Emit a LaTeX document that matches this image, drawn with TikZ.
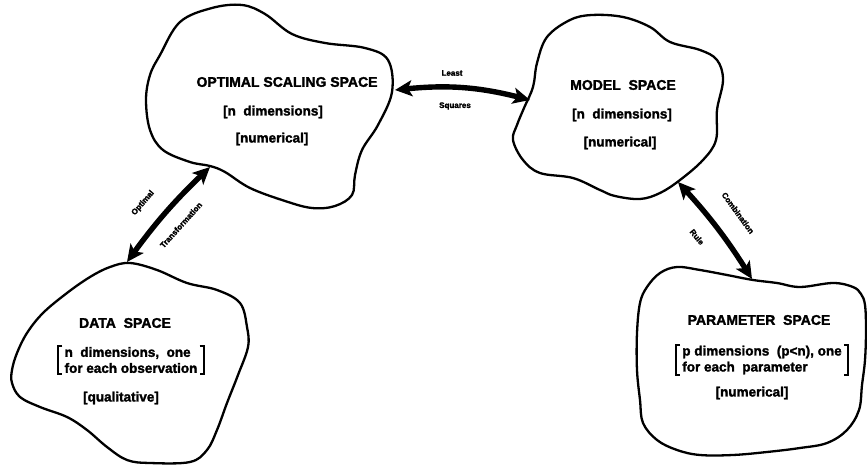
\documentclass[tikz,border=0pt]{standalone}
\usepackage{fontspec}
\newfontfamily\hv{Liberation Sans}[BoldFeatures={FakeBold=1.8}]
\usetikzlibrary{arrows.meta}
\begin{document}
\begin{tikzpicture}[x=1pt,y=-1pt,
  blob/.style={line width=2.3pt, line join=round},
  title/.style={font=\hv\bfseries\fontsize{14}{16}\selectfont, inner sep=0pt},
  sub/.style={font=\hv\bfseries\fontsize{13.5}{16}\selectfont, inner sep=0pt, align=left},
  lab/.style={font=\hv\bfseries\fontsize{8}{9}\selectfont, inner sep=0pt},
  link/.style={line width=5.4pt, {Stealth[length=17pt,width=16pt,inset=4pt]}-{Stealth[length=17pt,width=16pt,inset=4pt]}},
  brk/.style={line width=2pt}]
\useasboundingbox (0,0) rectangle (867,465);

% blobs
\draw[blob] plot[smooth cycle, tension=0.6] coordinates {
 (160,55) (180,22) (212,8) (242,5) (265,14) (292,34) (325,43) (365,48) (388,60)
 (392,92) (378,125) (362,150) (355,175) (352,195) (335,206) (312,208) (285,201)
 (250,188) (225,172) (210,166) (190,162) (163,150) (150,130) (146,100) (150,75)};
\draw[blob] plot[smooth cycle, tension=0.6] coordinates {
 (547,37) (570,20) (592,15) (623,17) (650,27) (670,42) (700,50) (717,60) (723,80)
 (717,110) (716,140) (703,160) (680,180) (660,193) (640,199) (615,196) (600,190)
 (573,178) (540,173) (523,160) (513,140) (517,125) (524,108) (533,87) (537,63)};
\draw[blob] plot[smooth cycle, tension=0.6] coordinates {
 (130,263) (157,270) (187,283) (217,290) (240,303) (247,327) (248,347) (238,375)
 (227,403) (217,430) (207,450) (190,462) (150,463) (127,460) (107,447) (87,430)
 (67,417) (40,407) (20,397) (12,383) (12,370) (17,353) (27,333) (43,313) (67,293)
 (90,277) (110,267)};
\draw[blob] plot[smooth cycle, tension=0.6] coordinates {
 (753,280) (777,283) (800,287) (833,283) (853,287) (861,294) (865,305) (866,330)
 (865,360) (862,385) (859,410) (847,430) (827,443) (800,448) (767,452) (733,455)
 (700,455) (677,450) (657,440) (643,423) (640,400) (637,370) (637,333) (640,303)
 (647,287) (660,273) (677,267) (700,270) (727,275)};

% texts
\node[title] (os1) at (287,82) {OPTIMAL SCALING SPACE};
\node[sub] (os2) at (273,112) {[n\ \ dimensions]};
\node[sub] (os3) at (272,139) {[numerical]};

\node[title] (ms1) at (623,85) {MODEL\ \ SPACE};
\node[sub] (ms2) at (622,115) {[n\ \ dimensions]};
\node[sub] (ms3) at (620,143) {[numerical]};

\node[title] (ds1) at (125,323) {DATA\ \ SPACE};
\node[sub] (ds2) at (131,360) {n\ \ dimensions,\ \ one\\for\ each\ observation};
\node[sub] (ds3) at (121,398) {[qualitative]};
\draw[brk] ([xshift=-2pt,yshift=1pt]ds2.north west) -| ([xshift=-6pt,yshift=-1pt]ds2.south west) -- ([xshift=-2pt,yshift=-1pt]ds2.south west);
\draw[brk] ([xshift=2pt,yshift=1pt]ds2.north east) -| ([xshift=6pt,yshift=-1pt]ds2.south east) -- ([xshift=2pt,yshift=-1pt]ds2.south east);

\node[title] (ps1) at (759,320) {PARAMETER\ \ SPACE};
\node[sub] (ps2) at (762,360) {p\ dimensions\ \ (p<n),\ one\\for\ each\ \ parameter};
\node[sub] (ps3) at (752,393) {[numerical]};
\draw[brk] ([xshift=-2pt,yshift=1pt]ps2.north west) -| ([xshift=-6pt,yshift=-1pt]ps2.south west) -- ([xshift=-2pt,yshift=-1pt]ps2.south west);
\draw[brk] ([xshift=2pt,yshift=1pt]ps2.north east) -| ([xshift=6pt,yshift=-1pt]ps2.south east) -- ([xshift=2pt,yshift=-1pt]ps2.south east);

% connector ends on the blob outlines
\coordinate (osE) at (395,90);
\coordinate (msW) at (530,100);
\coordinate (osS) at (210,167);
\coordinate (dsN) at (127,262);
\coordinate (msS) at (678,182);
\coordinate (psN) at (752,279);

\draw[link] (osE) to[bend left=10] (msW);
\draw[link] (dsN) to[bend left=5] (osS);
\draw[link] (msS) to[bend left=5] (psN);

% connector labels
\node[lab] (l1) at (452,73) {Least};
\node[lab] (l2) at (455,106) {Squares};
\node[lab, rotate=49] (l3) at (143,203) {Optimal};
\node[lab, rotate=48] (l4) at (181,225) {Transformation};
\node[lab, rotate=-54] (l5) at (738,213) {Combination};
\node[lab, rotate=-51] (l6) at (697,237) {Rule};
\end{tikzpicture}
\end{document}
